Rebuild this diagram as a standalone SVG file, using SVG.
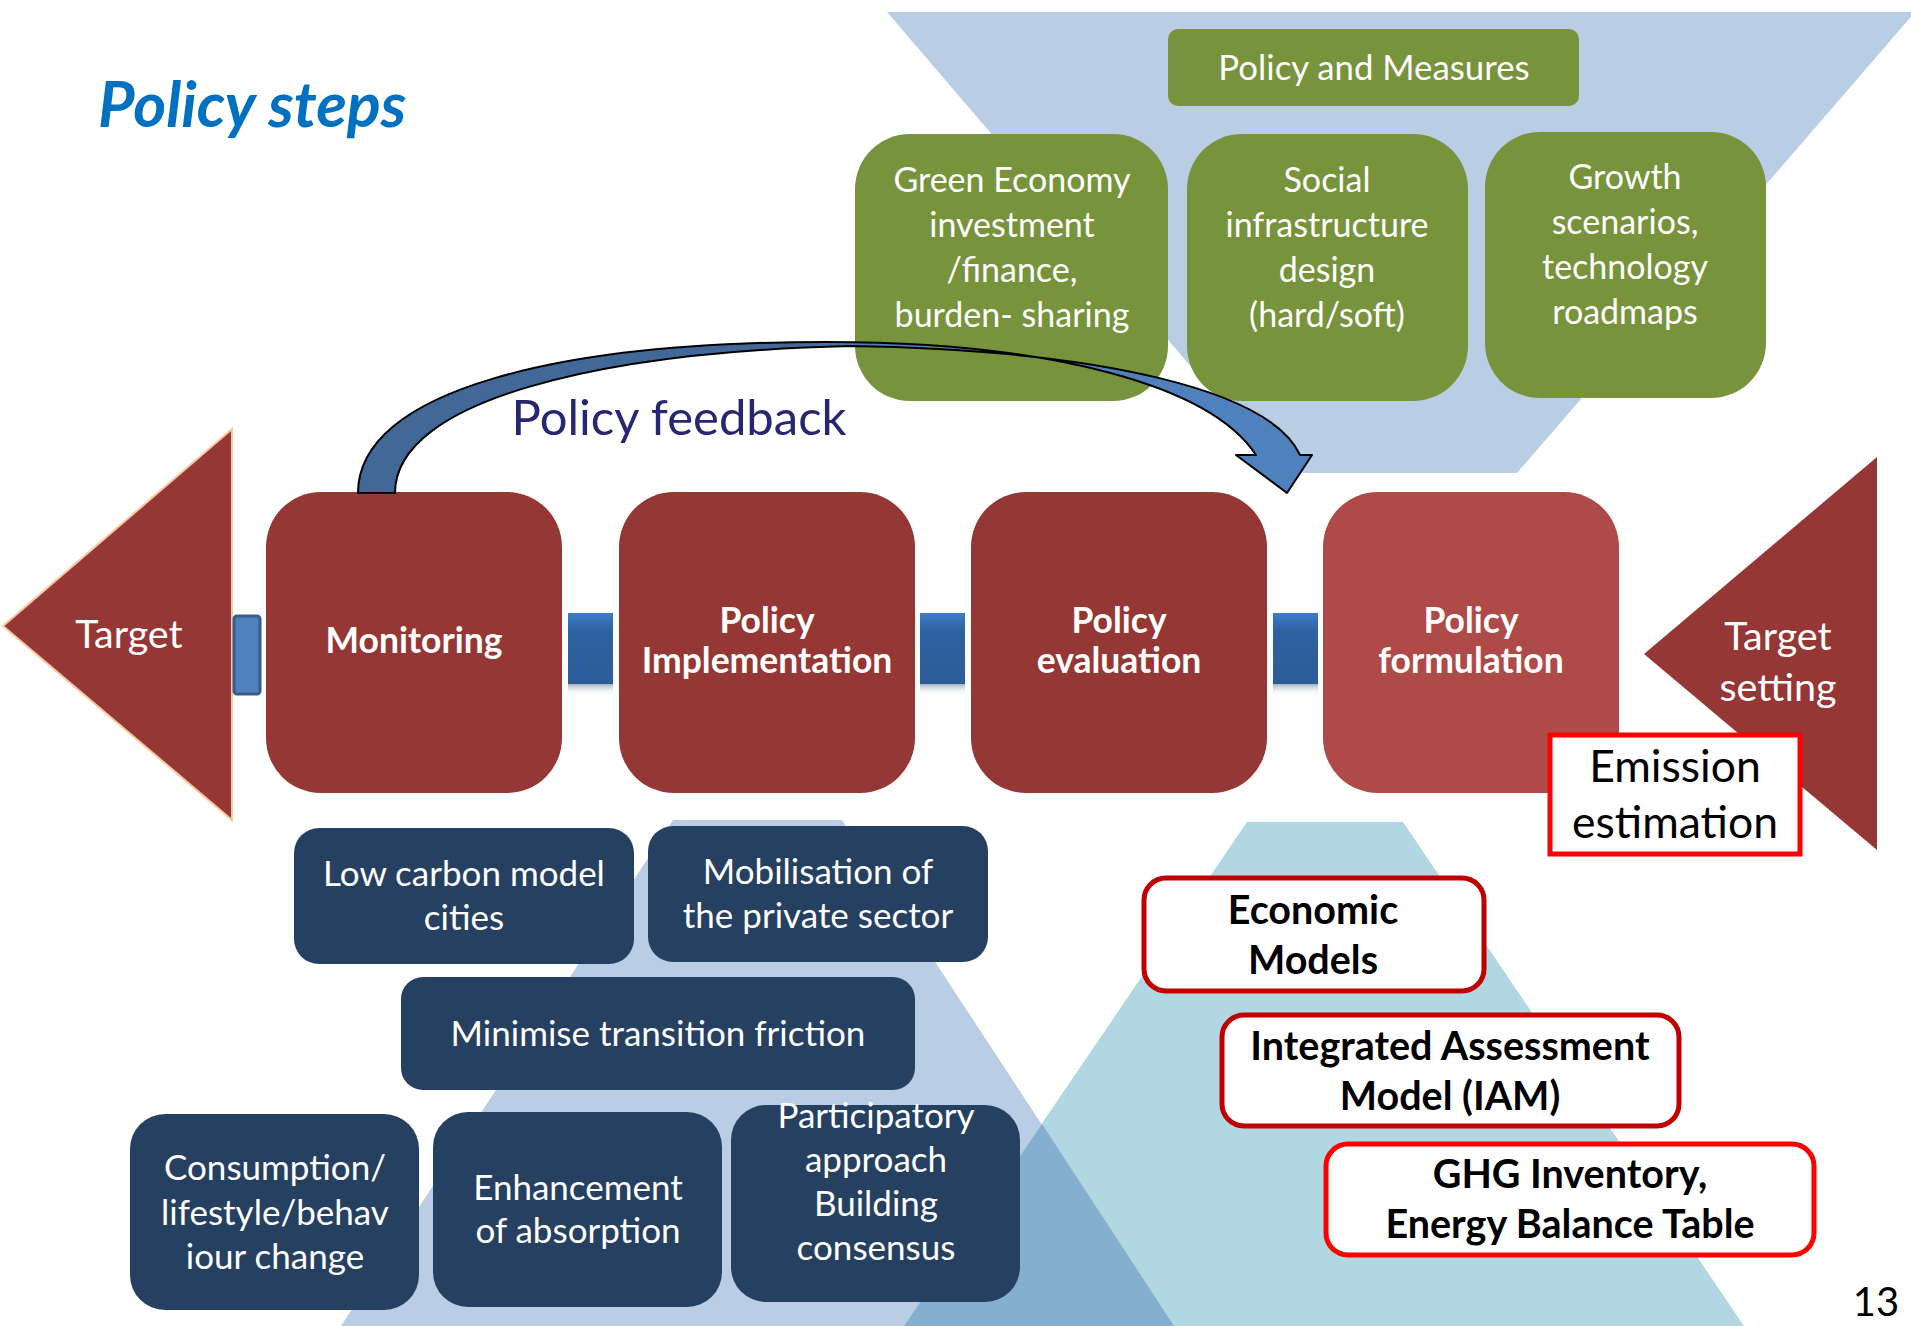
<svg xmlns="http://www.w3.org/2000/svg" width="1911" height="1326" viewBox="0 0 1911 1326">
<defs>
<style>
text{font-family:Lato,"Open Sans","Liberation Sans",sans-serif;text-anchor:middle}
.w{fill:#fff}
.k{fill:#000}
.g33{font-size:34px}
.n35{font-size:35px}
.b34{font-size:35.5px;font-weight:bold}
.b38{font-size:39.5px;font-weight:bold}
.red{fill:#953735}
.navy{fill:#254061}
.green{fill:#77933C}
.box{fill:#fff;stroke-width:5}
</style>
<linearGradient id="bar" x1="0" y1="0" x2="0" y2="1">
<stop offset="0" stop-color="#3E7CC9"/>
<stop offset="0.25" stop-color="#2F62A2"/>
<stop offset="1" stop-color="#2C5C98"/>
</linearGradient>
<linearGradient id="refl" x1="0" y1="0" x2="0" y2="1">
<stop offset="0" stop-color="#7F8FA6" stop-opacity="0.7"/>
<stop offset="1" stop-color="#FFFFFF" stop-opacity="0"/>
</linearGradient>
<linearGradient id="arr" gradientUnits="userSpaceOnUse" x1="358" y1="0" x2="1312" y2="0">
<stop offset="0.45" stop-color="#416897"/>
<stop offset="0.55" stop-color="#4F81BD"/>
</linearGradient>
</defs>

<!-- background shapes -->
<g id="backgrounds">
<polygon points="887,12 1915,12 1517,473 1282,473" fill="#B9CDE5"/>
<polygon points="673,820 842,820 1174,1326 341,1326" fill="#B9CDE5"/>
<polygon points="1247,822 1403,822 1744,1326 904,1326" fill="#B1D8E2"/>
<polygon points="1042,1124 1174,1326 904,1326" fill="#85AFCE"/>
</g>

<text x="98" y="127" style="font-size:63px;font-weight:bold;font-style:italic;text-anchor:start;fill:#0070C0">Policy steps</text>

<!-- top green nodes -->
<g id="policy-measures">
<rect x="1168" y="29" width="411" height="77" rx="10" class="green"/>
<text x="1374" y="80" class="w" style="font-size:34.8px">Policy and Measures</text>
</g>
<g id="green-economy">
<rect x="855" y="134" width="313" height="267" rx="55" class="green"/>
<text class="w g33"><tspan x="1012" y="192">Green Economy</tspan><tspan x="1012" y="237">investment</tspan><tspan x="1012" y="282">/finance,</tspan><tspan x="1012" y="327">burden- sharing</tspan></text>
</g>
<g id="social-infra">
<rect x="1187" y="134" width="281" height="267" rx="55" class="green"/>
<text class="w g33"><tspan x="1327" y="192">Social</tspan><tspan x="1327" y="237">infrastructure</tspan><tspan x="1327" y="282">design</tspan><tspan x="1327" y="327">(hard/soft)</tspan></text>
</g>
<g id="growth">
<rect x="1485" y="132" width="281" height="266" rx="55" class="green"/>
<text class="w g33"><tspan x="1625" y="189">Growth</tspan><tspan x="1625" y="234">scenarios,</tspan><tspan x="1625" y="279">technology</tspan><tspan x="1625" y="324">roadmaps</tspan></text>
</g>

<!-- targets -->
<g id="target">
<polygon points="232,429 3,626 232,820" class="red" stroke="#F8C8A0" stroke-width="2"/>
<text x="129" y="648" class="w" style="font-size:39.5px">Target</text>
</g>
<g id="target-setting">
<polygon points="1877,457 1644,654 1877,850" class="red"/>
<text class="w" style="font-size:39.5px"><tspan x="1778" y="650">Target</tspan><tspan x="1778" y="701">setting</tspan></text>
</g>

<!-- connectors -->
<g id="connectors">
<rect x="234" y="616" width="26" height="78" rx="3" fill="#4F81BD" stroke="#385D8A" stroke-width="3"/>
<rect x="568" y="613" width="45" height="71" fill="url(#bar)"/>
<rect x="568" y="684" width="45" height="12" fill="url(#refl)"/>
<rect x="920" y="613" width="45" height="71" fill="url(#bar)"/>
<rect x="920" y="684" width="45" height="12" fill="url(#refl)"/>
<rect x="1273" y="613" width="45" height="71" fill="url(#bar)"/>
<rect x="1273" y="684" width="45" height="12" fill="url(#refl)"/>
</g>

<!-- main step nodes -->
<g id="monitoring">
<rect x="266" y="492" width="296" height="301" rx="55" class="red"/>
<text x="414" y="653" class="w b34">Monitoring</text>
</g>
<g id="policy-implementation">
<rect x="619" y="492" width="296" height="301" rx="55" class="red"/>
<text class="w b34"><tspan x="767" y="633">Policy</tspan><tspan x="767" y="673">Implementation</tspan></text>
</g>
<g id="policy-evaluation">
<rect x="971" y="492" width="296" height="301" rx="55" class="red"/>
<text class="w b34"><tspan x="1119" y="633">Policy</tspan><tspan x="1119" y="673">evaluation</tspan></text>
</g>
<g id="policy-formulation">
<rect x="1323" y="492" width="296" height="301" rx="55" fill="#AE4A47"/>
<text class="w b34"><tspan x="1471" y="633">Policy</tspan><tspan x="1471" y="673">formulation</tspan></text>
</g>

<!-- feedback arrow -->
<g id="feedback-arrow">
<path d="M358,493 C358,390 560,342 826,342 C1050,342 1210,385 1256,455 L1236,455 L1287,493 L1312,455 L1300,455 C1270,390 1100,350 850,346 C600,352 395,400 395,493 Z" fill="url(#arr)" stroke="#000" stroke-width="2" stroke-linejoin="round"/>
<text x="679" y="435" style="font-size:49px;fill:#262672">Policy feedback</text>
</g>

<g id="emission-estimation">
<rect x="1550" y="735" width="250" height="119" class="box" stroke="#FF0000"/>
<text class="k" style="font-size:44.5px"><tspan x="1675" y="782">Emission</tspan><tspan x="1675" y="838">estimation</tspan></text>
</g>

<!-- navy nodes -->
<g id="low-carbon">
<rect x="294" y="828" width="340" height="136" rx="25" class="navy"/>
<text class="w n35"><tspan x="464" y="886">Low carbon model</tspan><tspan x="464" y="930">cities</tspan></text>
</g>
<g id="mobilisation">
<rect x="648" y="826" width="340" height="136" rx="25" class="navy"/>
<text class="w n35"><tspan x="818" y="884">Mobilisation of</tspan><tspan x="818" y="928">the private sector</tspan></text>
</g>
<g id="minimise">
<rect x="401" y="977" width="514" height="113" rx="22" class="navy"/>
<text x="658" y="1046" class="w n35">Minimise transition friction</text>
</g>
<g id="consumption">
<rect x="130" y="1114" width="289" height="196" rx="35" class="navy"/>
<text class="w n35"><tspan x="275" y="1180">Consumption/</tspan><tspan x="275" y="1225">lifestyle/behav</tspan><tspan x="275" y="1269">iour change</tspan></text>
</g>
<g id="enhancement">
<rect x="433" y="1112" width="289" height="195" rx="35" class="navy"/>
<text class="w n35"><tspan x="578" y="1200">Enhancement</tspan><tspan x="578" y="1243">of absorption</tspan></text>
</g>
<g id="participatory">
<rect x="731" y="1105" width="289" height="197" rx="35" class="navy"/>
<text class="w n35"><tspan x="876" y="1128">Participatory</tspan><tspan x="876" y="1172">approach</tspan><tspan x="876" y="1216">Building</tspan><tspan x="876" y="1260">consensus</tspan></text>
</g>

<!-- model nodes -->
<g id="economic-models">
<rect x="1144" y="878" width="340" height="113" rx="22" class="box" stroke="#C00000"/>
<text class="k b38"><tspan x="1313" y="924">Economic</tspan><tspan x="1313" y="974">Models</tspan></text>
</g>
<g id="iam">
<rect x="1222" y="1015" width="457" height="111" rx="22" class="box" stroke="#C00000"/>
<text class="k b38"><tspan x="1450" y="1060">Integrated Assessment</tspan><tspan x="1450" y="1110">Model (IAM)</tspan></text>
</g>
<g id="ghg">
<rect x="1326" y="1144" width="488" height="111" rx="22" class="box" stroke="#FF0000"/>
<text class="k b38"><tspan x="1570" y="1188">GHG Inventory,</tspan><tspan x="1570" y="1238">Energy Balance Table</tspan></text>
</g>

<text x="1876" y="1316" class="k" style="font-size:40px">13</text>
</svg>
